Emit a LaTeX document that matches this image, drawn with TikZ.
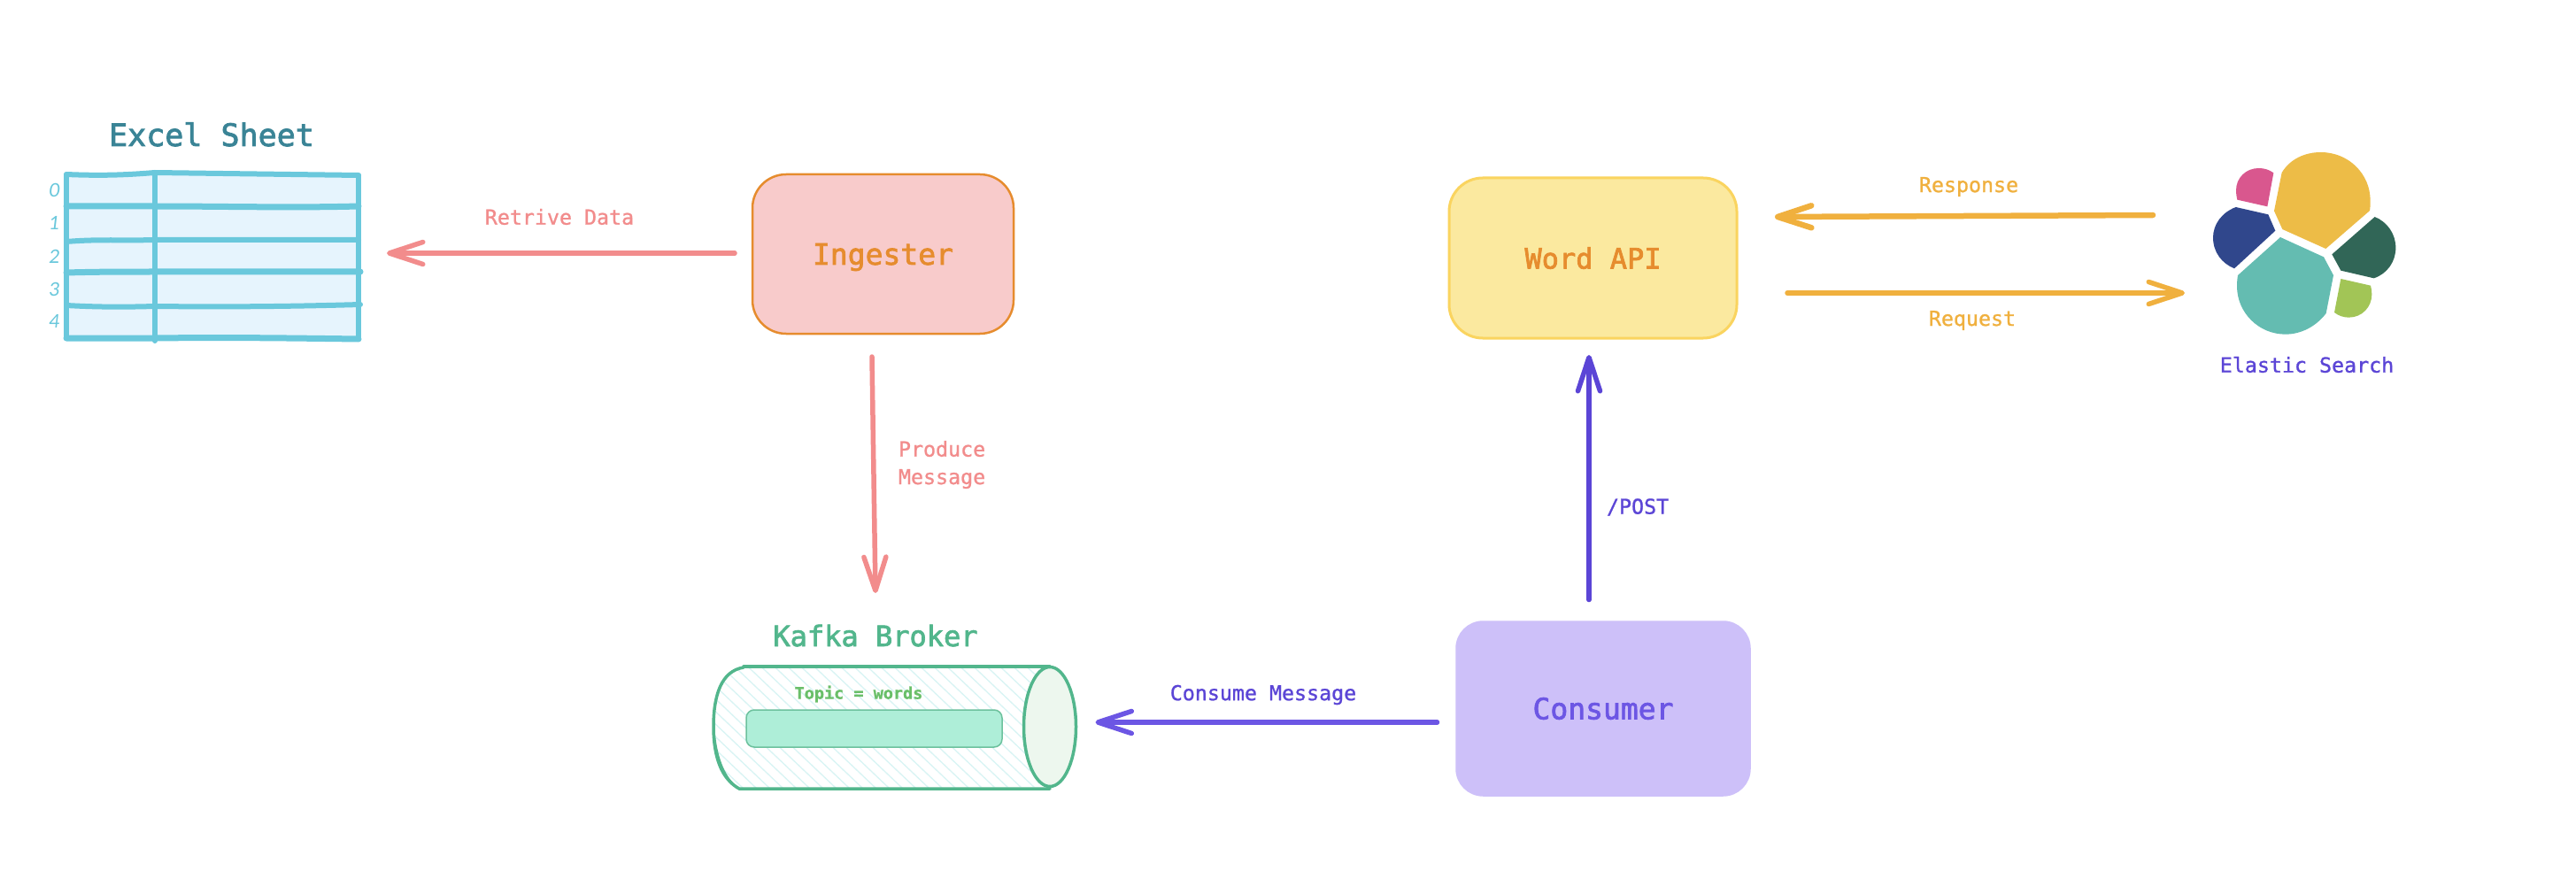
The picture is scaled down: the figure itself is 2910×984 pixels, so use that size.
\documentclass[tikz,border=0pt]{standalone}
\usepackage{fontspec}
\usetikzlibrary{arrows.meta,shapes.geometric}
\newfontfamily\monofam{DejaVu Sans Mono}[FakeBold=1]
\newfontfamily\titlefam{DejaVu Sans Mono}[FakeBold=2.2]
\newfontfamily\handfam{Lato}[FakeSlant=0.12]
\newcommand{\pxfont}[1]{\fontsize{#1}{#1}\selectfont}
\definecolor{excelblue}{HTML}{6AC8DC}
\definecolor{excelfill}{HTML}{E6F4FD}
\definecolor{exceltitlec}{HTML}{3A8496}
\definecolor{salmon}{HTML}{F28C8C}
\definecolor{ingfill}{HTML}{F8CBCB}
\definecolor{orangeline}{HTML}{E68C2E}
\definecolor{wordfill}{HTML}{FBE99F}
\definecolor{wordline}{HTML}{FAD45F}
\definecolor{amber}{HTML}{F0B03E}
\definecolor{kafkagreen}{HTML}{52B68C}
\definecolor{kafkafill}{HTML}{AEEED8}
\definecolor{kafkacapfill}{HTML}{EDF7EE}
\definecolor{topicgreen}{HTML}{6ABF69}
\definecolor{hatchcyan}{HTML}{D8F4F4}
\definecolor{violet1}{HTML}{6C56E4}
\definecolor{violet2}{HTML}{5B45D6}
\definecolor{consfill}{HTML}{CDC0F9}
\definecolor{esyellow}{HTML}{EDBC47}
\definecolor{espink}{HTML}{D9578E}
\definecolor{esnavy}{HTML}{30478C}
\definecolor{esteal}{HTML}{64BCB1}
\definecolor{esdark}{HTML}{316657}
\definecolor{eslime}{HTML}{A2C556}
\tikzset{
  lbl/.style={inner sep=0pt,outer sep=0pt,font=\monofam\pxfont{23.3}},
  title/.style={inner sep=0pt,outer sep=0pt,text height=24pt,text depth=0pt,font=\titlefam\pxfont{33}},
  service/.style={inner sep=0pt,outer sep=0pt,rounded corners=38pt,line width=2.5pt},
  flow/.style={line width=#1,line cap=round,-{Straight Barb[length=38pt,width=25pt,round]}},
  flow/.default=5.5pt,
  grid/.style={excelblue,line width=6pt,line cap=round},
  digit/.style={inner sep=0pt,text=excelblue,font=\handfam\pxfont{21}}
}
\begin{document}
\begin{tikzpicture}[x=1pt,y=-1pt]
\useasboundingbox (0,0) rectangle (2910,984);
\fill[white] (0,0) rectangle (2910,984);

% Excel sheet
\node[inner sep=0pt,outer sep=0pt,fill=excelfill,minimum width=330pt,minimum height=185pt] (excel) at (240,289.5) {};
\draw[grid] (75,197) .. controls (120,199) and (150,197) .. (175,195) -- (405,198);
\draw[grid,line width=7pt] (75,233) -- (175,233) .. controls (250,233) and (330,235) .. (405,233);
\draw[grid] (75,273) .. controls (110,270) and (140,272) .. (175,271) -- (405,271);
\draw[grid,line width=7pt] (75,308) .. controls (110,307) and (140,307) .. (175,307) -- (407,307);
\draw[grid] (75,345) .. controls (110,347) and (140,347) .. (175,346) .. controls (260,347) and (340,346) .. (407,344);
\draw[grid,line width=7pt] (75,382) -- (175,382) .. controls (260,381) and (330,382) .. (405,383);
\draw[grid,line width=5.5pt] (75,197) -- (75,382);
\draw[grid] (175,195) -- (175,385);
\draw[grid,line width=5.5pt] (405,198) -- (405,383);
\node[digit] (d0) at (61,215) {0};
\node[digit] (d1) at (61,252) {1};
\node[digit] (d2) at (61,290) {2};
\node[digit] (d3) at (61,327) {3};
\node[digit] (d4) at (61,363) {4};
\node[title,text=exceltitlec,font=\titlefam\pxfont{35}] (exceltitle) at (239,153) {Excel Sheet};

% Ingester
\node[service,draw=orangeline,fill=ingfill,minimum width=295pt,minimum height=180pt,text=orangeline,title] (ingester) at (997.5,287) {Ingester};
\node[lbl,text=salmon] (retrive) at (632,245) {Retrive Data};
\draw[flow,salmon] ([xshift=-20pt,yshift=1pt]ingester.west) -- ([xshift=32pt,yshift=3.5pt]excel.east);
\node[lbl,text=salmon,align=left,anchor=north west] (produce) at (1015,498) {Produce\\[8pt]Message};

% Kafka
\node[title,text=kafkagreen,font=\titlefam\pxfont{32}] (kafkatitle) at (989,718) {Kafka Broker};
\draw[flow,salmon] ([xshift=-12.5pt,yshift=-26pt]ingester.south) -- ([yshift=36pt]kafkatitle.north);
\begin{scope}
  \clip (840,754) -- (1186,753) -- (1186,889) -- (835,891) .. controls (815,880) and (806,855) .. (806,821) .. controls (806,785) and (815,758) .. (840,754) -- cycle;
  \foreach \s in {0,15,...,600}
    \draw[hatchcyan,line width=1.3pt] (660+\s,720) -- ++(200,190);
\end{scope}
\draw[kafkagreen,line width=3.5pt,line cap=round] (840,753) -- (1186,753);
\draw[kafkagreen,line width=3.5pt,line cap=round] (1186,891) -- (835,891) .. controls (815,880) and (806,855) .. (806,821) .. controls (806,785) and (815,758) .. (840,754);
\draw[kafkagreen,line width=2pt] (807,830) .. controls (810,860) and (820,880) .. (832,889);
\node[inner sep=0pt,outer sep=0pt,draw=kafkagreen,fill=kafkacapfill,line width=3.5pt,ellipse,minimum width=59pt,minimum height=135pt] (kafkacap) at (1186,821) {};
\node[draw=kafkagreen!85!white,fill=kafkafill,line width=1.5pt,inner sep=0pt,outer sep=0pt,rounded corners=9pt,minimum width=289pt,minimum height=42pt] (topic) at (987.5,823) {};
\node[inner sep=0pt,text=topicgreen,font=\monofam\bfseries\pxfont{18.5}] (topiclbl) at (970,784) {Topic = words};

% Consumer
\node[service,draw=consfill,fill=consfill,minimum width=331pt,minimum height=196pt,text=violet1,title,rounded corners=30pt] (consumer) at (1811,800.5) {Consumer};
\node[lbl,text=violet2] (consume) at (1427,785) {Consume Message};
\draw[flow,violet1] ([xshift=-22pt,yshift=-15.5pt]consumer.west) -- ([xshift=22pt,yshift=5pt]kafkacap.east);

% Word API
\node[service,draw=wordline,fill=wordfill,line width=3pt,minimum width=325pt,minimum height=181pt,text=orangeline,title,font=\titlefam\pxfont{32}] (wordapi) at (1799.5,291.5) {Word API};
\draw[flow,violet2] ([xshift=-16pt,yshift=25pt]consumer.north) -- ([xshift=-4.5pt,yshift=-19pt]wordapi.south);
\node[lbl,text=violet2,anchor=west] (post) at (1815,573) {/POST};

% Elastic logo
\begin{scope}[shift={(2400,130)},x=0.33333pt,y=-0.33333pt]
  \fill[fill=esyellow] (533,195) .. controls (560,150) and (610,126) .. (665,126) .. controls (760,126) and (833,200) .. (833,290) .. controls (833,302) and (833,312) .. (831,324) -- (682,453) -- (535,387) -- (507,325) -- cycle;
  \fill[fill=espink] (505,196) -- (484,310) -- (382,287) .. controls (379,276) and (378,265) .. (378,255) .. controls (378,212) and (412,180) .. (455,180) .. controls (473,180) and (490,185) .. (505,196) -- cycle;
  \fill[fill=esnavy] (377,312) -- (487,337) -- (511,392) -- (372,520) .. controls (330,503) and (300,465) .. (300,415) .. controls (300,370) and (330,330) .. (377,312) -- cycle;
  \fill[fill=esteal] (528,414) -- (675,481) -- (708,543) -- (683,672) .. controls (650,715) and (600,743) .. (545,743) .. controls (455,743) and (381,670) .. (381,580) .. controls (381,568) and (382,555) .. (384,543) -- cycle;
  \fill[fill=esdark] (848,345) .. controls (890,362) and (919,402) .. (919,450) .. controls (919,497) and (890,538) .. (845,553) -- (733,527) -- (703,472) -- cycle;
  \fill[fill=eslime] (733,555) -- (834,578) .. controls (837,590) and (838,600) .. (838,608) .. controls (838,650) and (805,686) .. (760,686) .. controls (742,686) and (725,680) .. (711,669) -- cycle;
\end{scope}
\node[inner sep=0pt,outer sep=0pt,minimum width=206pt,minimum height=206pt] (elastic) at (2603,273) {};
\node[lbl,text=violet2] (eslabel) at (2606,412) {Elastic Search};

% Word API <-> Elastic
\node[lbl,text=amber] (response) at (2224,211) {Response};
\node[lbl,text=amber] (request) at (2228,362) {Request};
\draw[flow=6.5pt,amber] ([xshift=-68pt,yshift=30pt]elastic.west) -- ([xshift=43pt,yshift=46.5pt]wordapi.east);
\draw[flow=5.5pt,amber] ([xshift=57pt,yshift=-39.5pt]wordapi.east) -- ([xshift=-32pt,yshift=-58pt]elastic.west);
\end{tikzpicture}
\end{document}
